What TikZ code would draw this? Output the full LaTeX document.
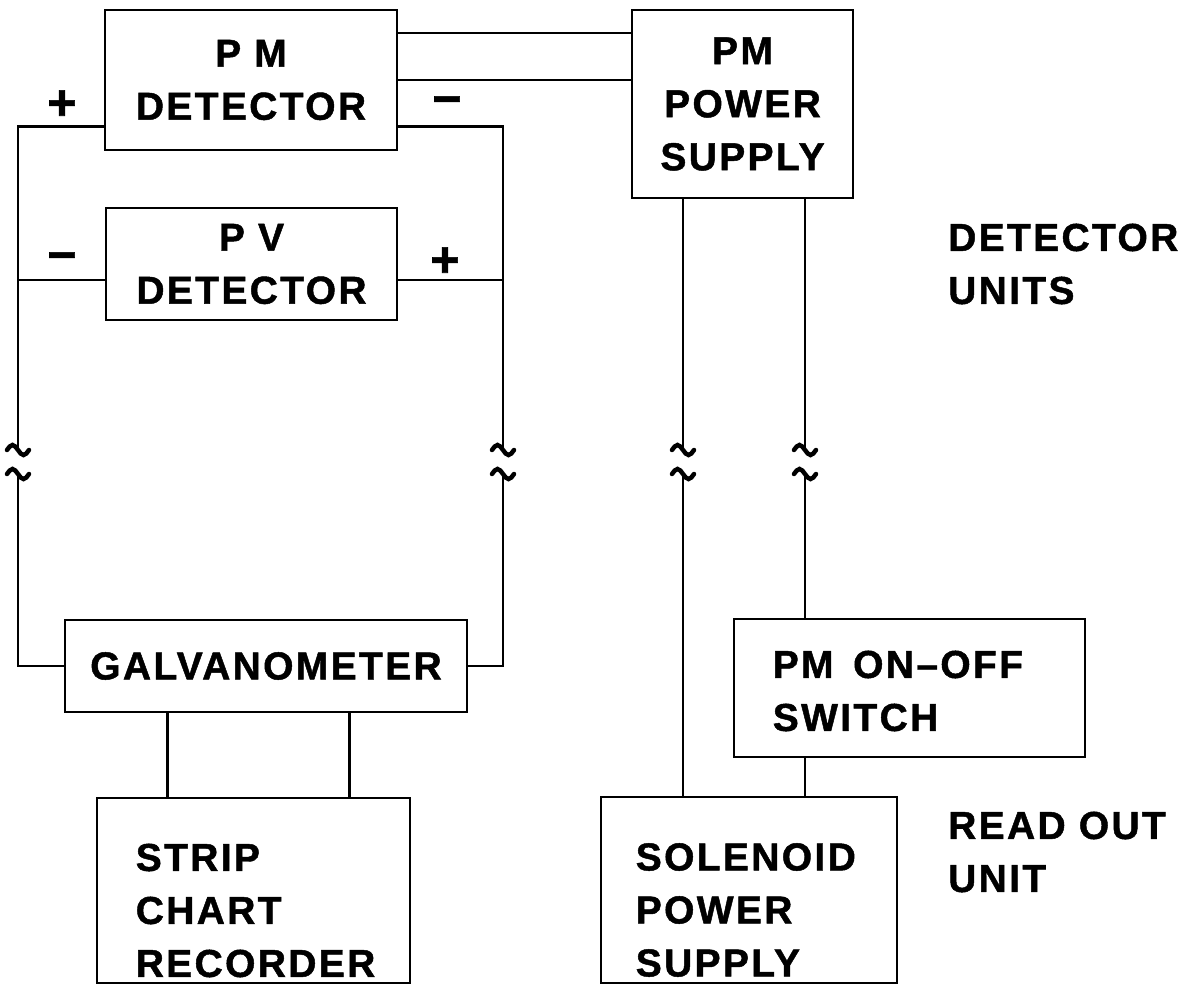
\documentclass[tikz,border=0pt]{standalone}
\usepackage{fontspec}
\setmainfont{Liberation Sans}[LetterSpace=6, BoldFeatures={FakeBold=1.2}]

\begin{document}
\begin{tikzpicture}[x=1pt, y=-1pt,
  every node/.style={font=\fontsize{39}{53}\selectfont\bfseries},
  box/.style={draw, line width=2.8pt, inner sep=0pt, align=center},
  lbl/.style={anchor=west, align=left, inner sep=0pt},
  sign/.style={font=\fontsize{50}{50}\selectfont\bfseries, inner sep=0pt},
  wire/.style={line width=2.8pt},
  brk/.style={line width=4.5pt, line cap=round}]
\useasboundingbox (0,0) rectangle (1195,986);
% boxes
\node[box, minimum width=292pt, minimum height=140pt] (pmdet) at (251,80) {P M\\DETECTOR};
\node[box, minimum width=221pt, minimum height=188pt] (pmps) at (742.5,104) {PM\\POWER\\SUPPLY};
\node[box, minimum width=291pt, minimum height=112pt] (pvdet) at (251.5,264) {P V\\DETECTOR};
\node[box, minimum width=402pt, minimum height=92pt] (galvo) at (266,666) {GALVANOMETER};
\node[box, minimum width=313pt, minimum height=185pt] (strip) at (253.5,890.5) {};
\node[box, minimum width=351pt, minimum height=138pt] (switch) at (909.5,688) {};
\node[box, minimum width=296pt, minimum height=186pt] (solenoid) at (749,890) {};
\node[lbl] (striptxt) at ([xshift=40pt,yshift=-20pt]strip.west) {STRIP\\CHART\\RECORDER};
\node[lbl] (soltxt) at ([xshift=36pt,yshift=-20pt]solenoid.west) {SOLENOID\\POWER\\SUPPLY};
\node[lbl] (swtxt) at ([xshift=40pt,yshift=-3pt]switch.west) {PM\hspace{0.5em}ON–OFF\\SWITCH};
% side labels
\node[lbl] (detunits) at (948,264) {DETECTOR\\UNITS};
\node[lbl] (readout) at (948,852) {READ OUT\\UNIT};
% polarity signs
\node[sign] (pmplus) at (62,105) {+};
\node[sign] (pmminus) at (447,106) {−};
\node[sign] (pvminus) at (62,262) {−};
\node[sign] (pvplus) at (445,262) {+};
% break points
\coordinate (ltop) at (18,450); \coordinate (lbot) at (18,474);
\coordinate (rtop) at (503,450); \coordinate (rbot) at (503,474);
\coordinate (atop) at (683,450); \coordinate (abot) at (683,474);
\coordinate (btop) at (805,450); \coordinate (bbot) at (805,474);
% wires
\draw[wire] ([yshift=25pt]pmdet.south west) -| (ltop);
\draw[wire] (lbot) |- (galvo.west);
\draw[wire] ([yshift=25pt]pmdet.south east) -| (rtop);
\draw[wire] (rbot) |- (galvo.east);
\draw[wire] ([yshift=-16pt]pvdet.west) -- ([yshift=-16pt]pvdet.west -| ltop);
\draw[wire] ([yshift=-16pt]pvdet.east) -- ([yshift=-16pt]pvdet.east -| rtop);
\draw[wire] ([yshift=47pt]pmdet.east) -- ([yshift=47pt]pmdet.east -| pmps.west);
\draw[wire] (pmdet.east) -- (pmdet.east -| pmps.west);
\draw[wire] (pmps.south -| atop) -- (atop);
\draw[wire] (abot) -- (abot |- solenoid.north);
\draw[wire] (pmps.south -| btop) -- (btop);
\draw[wire] (bbot) -- (bbot |- switch.north);
\draw[wire] (switch.south -| bbot) -- (solenoid.north -| bbot);
\draw[wire] ([xshift=72pt]strip.north west) -- ([xshift=72pt]strip.north west |- galvo.south);
\draw[wire] ([xshift=-62pt]strip.north east) -- ([xshift=-62pt]strip.north east |- galvo.south);
% breaks in the long leads
\foreach \c in {ltop,lbot,rtop,rbot,atop,abot,btop,bbot}
  \draw[brk] (\c) ++(-11,0) sin ++(5.5,-5) cos ++(5.5,5) sin ++(5.5,5) cos ++(5.5,-5);
\end{tikzpicture}
\end{document}
